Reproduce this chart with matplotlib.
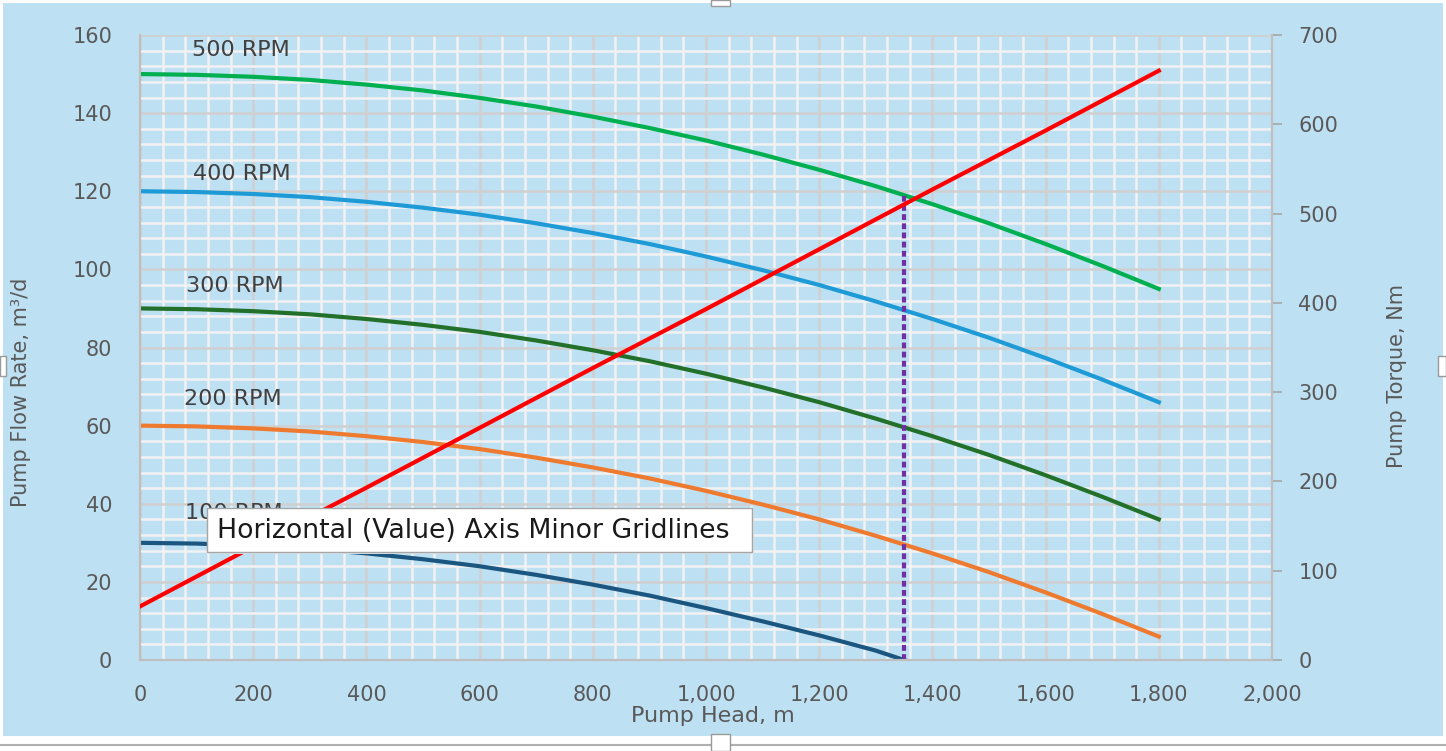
import numpy as np
import matplotlib
matplotlib.use("Agg")
import matplotlib.pyplot as plt
import matplotlib.patches as mpatches
from matplotlib.ticker import MultipleLocator, FuncFormatter

# pump head (m) and flow rate (m3/d)
head = [0, 100, 200, 300, 400, 500, 600, 700, 800, 900, 1000,
        1100, 1200, 1300, 1400, 1500, 1600, 1700, 1800]
flow_500 = [150, 149.8, 149.3, 148.5, 147.3, 145.8, 143.9, 141.7, 139.1, 136.2,
            133.0, 129.4, 125.5, 121.3, 116.7, 111.8, 106.5, 100.9, 95.0]
flow_400 = [120, 119.8, 119.3, 118.5, 117.3, 115.8, 114.0, 111.8, 109.3, 106.5,
            103.3, 99.8, 96.0, 91.8, 87.3, 82.5, 77.3, 71.8, 66.0]
flow_300 = [90, 89.8, 89.3, 88.5, 87.3, 85.8, 84.0, 81.8, 79.3, 76.5,
            73.3, 69.8, 66.0, 61.8, 57.3, 52.5, 47.3, 41.8, 36.0]
flow_200 = [60, 59.8, 59.3, 58.5, 57.3, 55.8, 54.0, 51.8, 49.3, 46.5,
            43.3, 39.8, 36.0, 31.8, 27.3, 22.5, 17.3, 11.8, 6.0]
head_100 = [0, 100, 200, 300, 400, 500, 600, 700, 800, 900, 1000,
            1100, 1200, 1300, 1350]
flow_100 = [30, 29.8, 29.3, 28.5, 27.3, 25.8, 24.0, 21.8, 19.3, 16.5,
            13.3, 9.9, 6.3, 2.4, 0]

# pump torque (Nm) on right axis
torque_head = [0, 200, 400, 600, 800, 1000, 1200, 1400, 1600, 1800]
torque = [60, 127, 193, 260, 327, 393, 460, 527, 593, 660]

# operating point marker
op_head = 1350
op_flow = 119.5

rpm_labels = ["500 RPM", "400 RPM", "300 RPM", "200 RPM", "100 RPM"]
rpm_label_pos = [(92, 156.2), (94, 124.5), (81, 95.8), (78, 66.8), (80, 37.6)]
tooltip = "Horizontal (Value) Axis Minor Gridlines"

W, H = 1446, 751
blue = "#BEE0F3"
grey_txt = "#595959"

fig = plt.figure(figsize=(W / 100, H / 100), dpi=100)
fig.patch.set_facecolor("white")
fig.add_artist(mpatches.Rectangle((3 / W, 1 - 736 / H), 1440 / W, 733 / H,
                                  transform=fig.transFigure, fc=blue, ec="none", zorder=-10))
fig.add_artist(plt.Line2D([0, 1], [1 - 745 / H, 1 - 745 / H], transform=fig.transFigure,
                          color="#B0B0B0", lw=1.5))
# selection handles
for (hx, hy, hw, hh) in [(711, 0, 19, 6), (711, 734, 19, 17), (0, 356, 6, 20), (1438, 356, 8, 20)]:
    fig.add_artist(mpatches.Rectangle((hx / W, 1 - (hy + hh) / H), hw / W, hh / H,
                                      transform=fig.transFigure, fc="white", ec="#9A9A9A", lw=1, zorder=10))

ax = fig.add_axes([140 / W, 1 - 660 / H, 1132 / W, 625 / H])
ax.set_facecolor(blue)
ax2 = ax.twinx()

ax.set_xlim(0, 2000)
ax.set_ylim(0, 160)
ax2.set_ylim(0, 700)

ax.xaxis.set_major_locator(MultipleLocator(200))
ax.xaxis.set_minor_locator(MultipleLocator(40))
ax.yaxis.set_major_locator(MultipleLocator(20))
ax.yaxis.set_minor_locator(MultipleLocator(4))
ax2.yaxis.set_major_locator(MultipleLocator(100))
ax.xaxis.set_major_formatter(FuncFormatter(lambda v, p: f"{int(v):,}"))

ax.grid(which="minor", color="#F2F2F2", lw=1.8, zorder=0)
ax.grid(which="major", color="#D0D0D0", lw=1.8, zorder=0)
ax.set_axisbelow(True)

ax.tick_params(axis="both", which="both", length=0, labelsize=15, labelcolor=grey_txt)
ax.tick_params(axis="y", pad=20)
ax.tick_params(axis="x", pad=18)
ax2.tick_params(axis="y", length=7, width=1.2, color="#A6A6A6", pad=12,
                labelsize=15, labelcolor=grey_txt)

for a in (ax, ax2):
    a.spines["top"].set_visible(False)
    for s in ("left", "bottom", "right"):
        a.spines[s].set_color("#BFBFBF")
        a.spines[s].set_linewidth(1.5)

lw = 3
ax.plot(head, flow_500, color="#00B050", lw=lw, zorder=3)
ax.plot(head, flow_400, color="#1E9AD6", lw=lw, zorder=3)
ax.plot(head, flow_300, color="#22702A", lw=lw, zorder=3)
ax.plot(head, flow_200, color="#EE7A30", lw=lw, zorder=3)
ax.plot(head_100, flow_100, color="#1B5680", lw=lw, zorder=3)
ax.plot([op_head, op_head], [0, op_flow], color="#7030A0", lw=3,
        linestyle=(0, (1.4, 0.8)), zorder=4)
ax2.plot(torque_head, torque, color="#FF0000", lw=lw, zorder=5)

for lab, (lx, ly) in zip(rpm_labels, rpm_label_pos):
    ax.text(lx, ly, lab, fontsize=16, color="#404040", ha="left", va="center", zorder=6)

fig.text(21 / W, 1 - 392 / H, "Pump Flow Rate, m³/d", rotation=90, ha="center", va="center",
         fontsize=15, color=grey_txt)
fig.text(1397 / W, 1 - 376 / H, "Pump Torque, Nm", rotation=90, ha="center", va="center",
         fontsize=15, color=grey_txt)
fig.text(713 / W, 1 - 716 / H, "Pump Head, m", ha="center", va="center",
         fontsize=16, color=grey_txt)

# tooltip box
fig.add_artist(mpatches.Rectangle((209 / W, 1 - 554 / H), 545 / W, 44 / H,
                                  transform=fig.transFigure, fc="#D8E6EE", ec="none", zorder=19))
fig.add_artist(mpatches.Rectangle((207 / W, 1 - 552 / H), 545 / W, 44 / H,
                                  transform=fig.transFigure, fc="white", ec="#A6A6A6", lw=1, zorder=20))
fig.text(217 / W, 1 - 531 / H, tooltip, ha="left", va="center", fontsize=19.3,
         color="#1A1A1A", zorder=21)

plt.savefig("out.png", dpi=100, facecolor=fig.get_facecolor())
